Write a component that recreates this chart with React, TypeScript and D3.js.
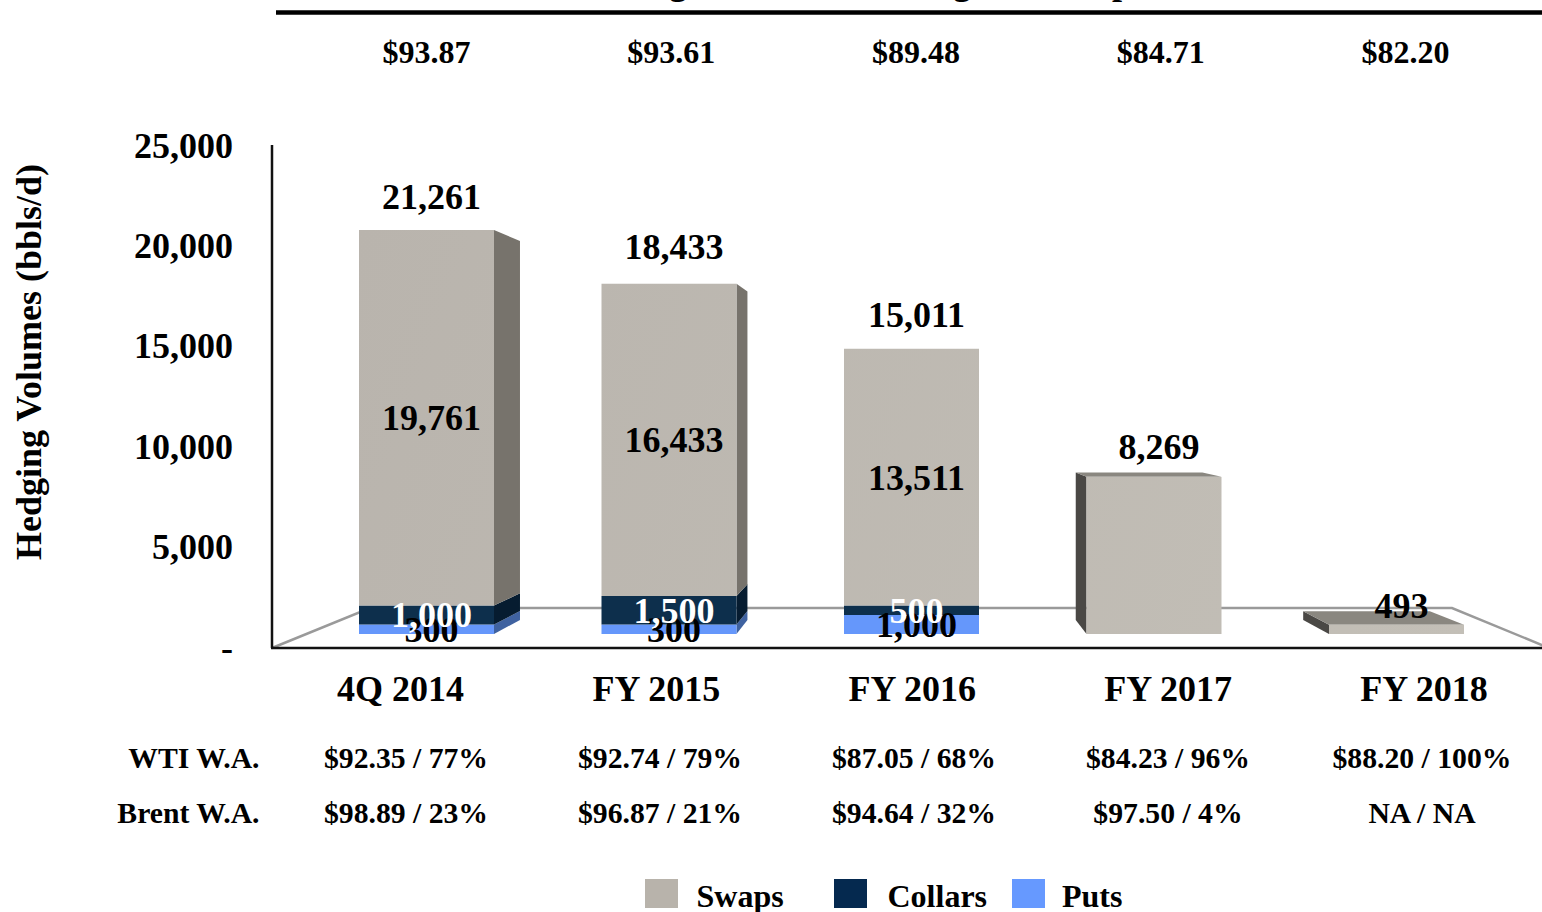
import React, { useEffect, useRef } from 'react';
import * as d3 from 'd3';

const categories = ['4Q 2014', 'FY 2015', 'FY 2016', 'FY 2017', 'FY 2018'];
const swaps = [19761, 16433, 13511, 8269, 493];
const collars = [1000, 1500, 500, 0, 0];
// the bars are drawn 500 tall for the first two puts although they are labelled 300
const puts = [500, 500, 1000, 0, 0];
const putsLabels = ['300', '300', '1,000', '', ''];
const totals = ['21,261', '18,433', '15,011', '8,269', '493'];
const hedgePrices = ['$93.87', '$93.61', '$89.48', '$84.71', '$82.20'];
const wtiRow = ['$92.35 / 77%', '$92.74 / 79%', '$87.05 / 68%', '$84.23 / 96%', '$88.20 / 100%'];
const brentRow = ['$98.89 / 23%', '$96.87 / 21%', '$94.64 / 32%', '$97.50 / 4%', 'NA / NA'];
const yTicks = [0, 5000, 10000, 15000, 20000, 25000];

const FONT = '"Liberation Serif", serif';
const seriesKeys = ['puts', 'collars', 'swaps'];
const frontColor = { swaps: 'url(#swapFront)', collars: '#0d2f4c', puts: '#6597fb' };
const sideColor = { swaps: '#77736c', collars: '#061c30', puts: '#3f62a0' };
const legendItems = [
  { name: 'Swaps', color: '#b8b3ab', x: 645, textX: 696.5 },
  { name: 'Collars', color: '#05294f', x: 834, textX: 887.5 },
  { name: 'Puts', color: '#6699ff', x: 1012, textX: 1062 },
];
// how far each total sits above its bar
const totalLabelGap = [21, 25, 22, 18, 7];

const rows = categories.map((c, i) => ({ category: c, swaps: swaps[i], collars: collars[i], puts: puts[i] }));
const stacked = d3.stack().keys(seriesKeys)(rows as any);

const x = d3.scaleBand().domain(categories).range([359, 1464]).paddingInner(0.4433).paddingOuter(0);
// front face of the bars
const y = d3.scaleLinear().domain([0, 21261]).range([634, 230]);
// the axis labels are on the back wall, so they run on a different scale
const yAxisScale = d3.scaleLinear().domain([0, 25000]).range([647.5, 145.5]);

const priceX = d3.scalePoint().domain(categories).range([426.5, 1405.5]);
const categoryX = d3.scalePoint().domain(categories).range([400.5, 1424]);
const rowX = d3.scalePoint().domain(categories).range([406, 1422]);

// vanishing point of the 3D bars
const vx = 913;
const vy = 407.5;
const depth = 0.938;
const backX = (px: number) => vx + depth * (px - vx);
const backY = (py: number) => vy + depth * (py - vy);

const poly = d3.line();

const App = () => {
  const axisRef = useRef<SVGGElement>(null);

  useEffect(() => {
    const g = d3.select(axisRef.current);
    g.call(
      d3.axisLeft(yAxisScale)
        .tickValues(yTicks)
        .tickSize(0)
        .tickPadding(0)
        .tickFormat(d => (d === 0 ? '-' : d3.format(',')(d as number))) as any
    );
    g.select('.domain').remove();
    g.selectAll('text')
      .attr('font-family', FONT)
      .attr('font-weight', 'bold')
      .attr('font-size', 36)
      .attr('fill', '#000');
  }, []);

  const bold = { fontFamily: FONT, fontWeight: 'bold' as const, fill: '#000' };
  const bw = x.bandwidth();

  return (
    <svg
      width={1542}
      height={912}
      style={{ position: 'absolute', left: 0, top: 0, background: '#fff', display: 'block' }}
    >
      <defs>
        <linearGradient id="swapFront" gradientUnits="userSpaceOnUse" x1={359} y1={230} x2={1464} y2={634}>
          <stop offset="0%" stopColor="#b9b4ad" />
          <stop offset="100%" stopColor="#c3bfb7" />
        </linearGradient>
      </defs>

      {/* title is cut by the top of the picture, only these descenders show */}
      <g {...bold} fontSize={36} textAnchor="middle">
        <text x={678} y={-6}>g</text>
        <text x={962} y={-6}>g</text>
        <text x={1122} y={-6}>p</text>
      </g>
      <line x1={276} x2={1542} y1={12.5} y2={12.5} stroke="#000" strokeWidth={4.5} />

      <g {...bold} fontSize={32} textAnchor="middle">
        {hedgePrices.map((p, i) => (
          <text key={p} x={priceX(categories[i])} y={63}>{p}</text>
        ))}
      </g>

      {/* floor */}
      <path
        d={poly([[272, 648], [370, 608], [1452, 608], [1549, 648]] as any) as string}
        fill="none"
        stroke="#9a9a9a"
        strokeWidth={2.5}
      />

      {/* bars */}
      {stacked.map(layer =>
        layer.map((d, i) => {
          if (d[1] === d[0]) return null;
          const key = layer.key as keyof typeof sideColor;
          const x0 = x(categories[i]) as number;
          const x1 = x0 + bw;
          const yTop = y(d[1]);
          const yBot = y(d[0]);
          const isTop = key === 'swaps';
          return (
            <g key={`${key}-${i}`}>
              {x1 < vx && (
                <path
                  d={poly([[x1, yBot], [x1, yTop], [backX(x1), backY(yTop)], [backX(x1), backY(yBot)]]) + 'Z'}
                  fill={sideColor[key]}
                />
              )}
              {x0 > vx && (
                <path
                  d={poly([[x0, yBot], [x0, yTop], [backX(x0), backY(yTop)], [backX(x0), backY(yBot)]]) + 'Z'}
                  fill="#4a4845"
                />
              )}
              {isTop && yTop > vy && (
                <path
                  d={poly([[x0, yTop], [x1, yTop], [backX(x1), backY(yTop)], [backX(x0), backY(yTop)]]) + 'Z'}
                  fill="#8a8780"
                />
              )}
              <rect x={x0} y={yTop} width={bw} height={yBot - yTop} fill={frontColor[key]} />
            </g>
          );
        })
      )}

      {/* axes */}
      <line x1={272} x2={272} y1={145} y2={648} stroke="#111" strokeWidth={2.5} />
      <line x1={271} x2={1542} y1={648} y2={648} stroke="#111" strokeWidth={2.5} />
      <g ref={axisRef} transform="translate(233,0)" />
      <text {...bold} fontSize={36} textAnchor="middle" transform="translate(41,362) rotate(-90)">
        Hedging Volumes (bbls/d)
      </text>

      {/* value labels */}
      <g {...bold} fontSize={36} textAnchor="middle">
        {categories.map((c, i) => {
          const cx = (x(c) as number) + bw / 2 + 5;
          const [putLayer, collarLayer, swapLayer] = stacked;
          const mid = (d: number[]) => (y(d[0]) + y(d[1])) / 2 + 12.5;
          return (
            <g key={c}>
              {puts[i] > 0 && <text x={cx} y={mid(putLayer[i])}>{putsLabels[i]}</text>}
              {collars[i] > 0 && (
                <text x={cx} y={mid(collarLayer[i])} fill="#fff">{d3.format(',')(collars[i])}</text>
              )}
              {puts[i] > 0 && <text x={cx} y={mid(swapLayer[i])}>{d3.format(',')(swaps[i])}</text>}
              <text x={cx} y={y(swapLayer[i][1]) - totalLabelGap[i]}>{totals[i]}</text>
            </g>
          );
        })}
      </g>

      {/* category labels and the table under them */}
      <g {...bold} fontSize={36} textAnchor="middle">
        {categories.map(c => (
          <text key={c} x={categoryX(c)} y={701}>{c}</text>
        ))}
      </g>
      <g {...bold} fontSize={29.7}>
        <text x={259.5} y={767.5} textAnchor="end">WTI W.A.</text>
        <text x={259.5} y={822.5} textAnchor="end">Brent W.A.</text>
        {categories.map((c, i) => (
          <g key={c} textAnchor="middle">
            <text x={rowX(c)} y={767.5}>{wtiRow[i]}</text>
            <text x={rowX(c)} y={822.5}>{brentRow[i]}</text>
          </g>
        ))}
      </g>

      {/* legend */}
      {legendItems.map(item => (
        <g key={item.name}>
          <rect x={item.x} y={879} width={33} height={29} fill={item.color} />
          <text {...bold} x={item.textX} y={907} fontSize={32}>{item.name}</text>
        </g>
      ))}
    </svg>
  );
};

export default App;
